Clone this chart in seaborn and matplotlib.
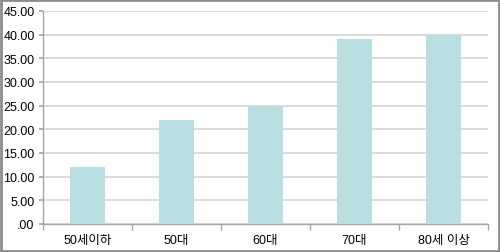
import matplotlib
matplotlib.use("Agg")
import matplotlib.pyplot as plt
import seaborn as sns
import pandas as pd
from matplotlib.ticker import FuncFormatter, FixedLocator
from matplotlib.patches import Rectangle

categories = ["50세이하", "50대", "60대", "70대", "80세 이상"]
values = [12.0, 22.0, 25.0, 39.0, 40.0]
yticks = [0, 5, 10, 15, 20, 25, 30, 35, 40, 45]

sns.set_theme(style="white")
plt.rcParams['font.family'] = ['Liberation Sans', 'Noto Sans CJK KR', 'DejaVu Sans']

df = pd.DataFrame({"cat": categories, "val": values})

fig = plt.figure(figsize=(5.0, 2.53), dpi=100)
ax = fig.add_axes([0.086, 0.111, 0.890, 0.842])

sns.barplot(data=df, x="cat", y="val", color="#b9dfe2", saturation=1, width=0.4,
            linewidth=0, edgecolor="none", ax=ax, zorder=3)

ax.set_ylim(0, 45)
ax.set_xlim(-0.5, len(categories) - 0.5)
ax.set_yticks(yticks)
ax.yaxis.set_major_formatter(FuncFormatter(lambda v, p: f"{v:.2f}".lstrip("0") if v < 1 else f"{v:.2f}"))
ax.grid(axis="y", color="#d4d4d4", linewidth=1.2, zorder=0)
ax.set_axisbelow(True)
ax.set_xlabel("")
ax.set_ylabel("")

for s in ["top", "right"]:
    ax.spines[s].set_visible(False)
for s in ["left", "bottom"]:
    ax.spines[s].set_color("#a6a6a6")
    ax.spines[s].set_linewidth(1.0)

ax.tick_params(axis="y", which="major", length=3, color="#a6a6a6", labelsize=9, pad=3, labelcolor="black", direction="out", left=True)
ax.tick_params(axis="x", which="major", length=0, labelsize=9, pad=7, labelcolor="black")
ax.xaxis.set_minor_locator(FixedLocator([i - 0.5 for i in range(len(categories) + 1)]))
ax.tick_params(axis="x", which="minor", length=4, color="#a6a6a6", direction="out", bottom=True)

fig.patches.append(Rectangle((0.002, 0.004), 0.996, 0.992, transform=fig.transFigure,
                             fill=False, edgecolor="#8c8c8c", linewidth=2))

fig.savefig("out.png", dpi=100)
